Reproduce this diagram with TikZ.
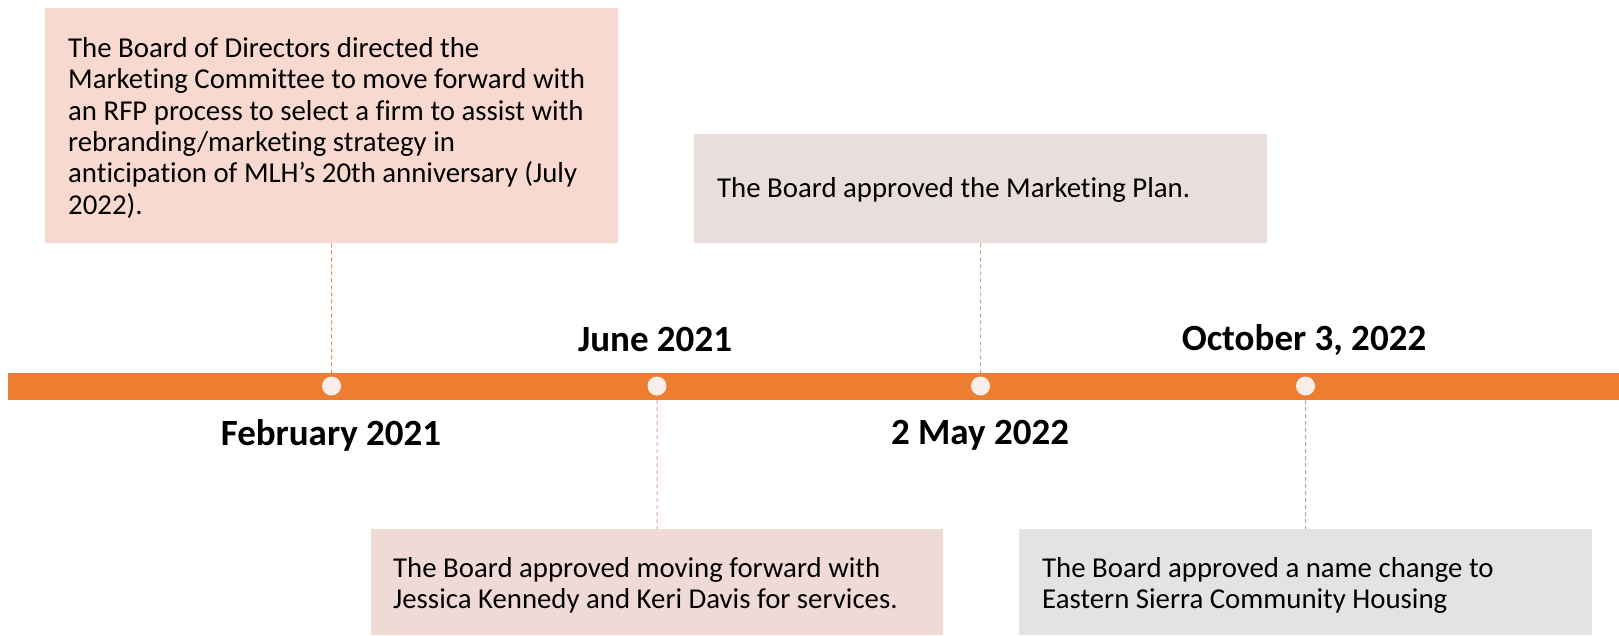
\documentclass[tikz,border=0pt]{standalone}
\usepackage{fontspec}
\setmainfont[Ligatures=NoCommon]{Carlito}
\usetikzlibrary{backgrounds}
\definecolor{barorange}{HTML}{ED7D31}
\definecolor{dotfill}{HTML}{FBEEE8}
\definecolor{boxA}{HTML}{F8D9D0}
\definecolor{boxB}{HTML}{EADEDD}
\definecolor{boxC}{HTML}{F0DAD6}
\definecolor{boxD}{HTML}{E3E3E3}
\definecolor{lineA}{HTML}{EE8A4C}
\definecolor{lineB}{HTML}{C9A39D}
\definecolor{lineC}{HTML}{E5A193}
\definecolor{lineD}{HTML}{A8A8A8}
\tikzset{
  evbox/.style={draw=none, inner sep=0pt, anchor=north west},
  evtext/.style={inner sep=0pt, anchor=north west, align=left,
    font=\fontsize{28.8pt}{31.4pt}\selectfont, text=black},
  datelabel/.style={inner sep=0pt, font=\fontsize{37pt}{40pt}\selectfont\bfseries, text=black},
  dot/.style={circle, fill=dotfill, inner sep=0pt, minimum size=19pt},
  conn/.style={dash pattern=on 4pt off 3pt, line width=1pt}
}
\begin{document}
\begin{tikzpicture}[x=1pt, y=-1pt]
\useasboundingbox (0,0) rectangle (1619,635);
% event boxes
\node[evbox, fill=boxA, minimum width=573pt, minimum height=235pt] (b1) at (45,8) {};
\node[evbox, fill=boxB, minimum width=573pt, minimum height=109pt] (b2) at (694,134) {};
\node[evbox, fill=boxC, minimum width=572pt, minimum height=106pt] (b3) at (371,529) {};
\node[evbox, fill=boxD, minimum width=573pt, minimum height=106pt] (b4) at (1019,529) {};
% box texts
\node[evtext] (t1) at (68,37) {The Board of Directors directed the\\Marketing Committee to move forward with\\an RFP process to select a firm to assist with\\rebranding/marketing strategy in\\anticipation of MLH’s 20th anniversary (July\\2022).};
\node[evtext] (t2) at (717,177) {The Board approved the Marketing Plan.};
\node[evtext] (t3) at (393,557) {The Board approved moving forward with\\Jessica Kennedy and Keri Davis for services.};
\node[evtext] (t4) at (1042,557) {The Board approved a name change to\\Eastern Sierra Community Housing};
% timeline bar
\node[inner sep=0pt, fill=barorange, minimum width=1611pt, minimum height=27pt, anchor=north west] (bar) at (8,372.5) {};
% milestones
\node[dot] (c1) at (331.5,386) {};
\node[dot] (c2) at (657,386) {};
\node[dot] (c3) at (980.5,386) {};
\node[dot] (c4) at (1305.5,386) {};
% dates
\node[datelabel] (d1) at (331,435) {February 2021};
\node[datelabel] (d2) at (655,339) {June 2021};
\node[datelabel] (d3) at (980,435) {2 May 2022};
\node[datelabel] (d4) at (1304,340) {October 3, 2022};
% dashed leaders, behind the bar
\begin{scope}[on background layer]
\draw[conn, draw=lineA] (b1.south) -- (c1.center);
\draw[conn, draw=lineB] (b2.south) -- (c3.center);
\draw[conn, draw=lineC] (c2.center) -- (b3.north);
\draw[conn, draw=lineD] (c4.center) -- (b4.north);
\end{scope}
\end{tikzpicture}
\end{document}
